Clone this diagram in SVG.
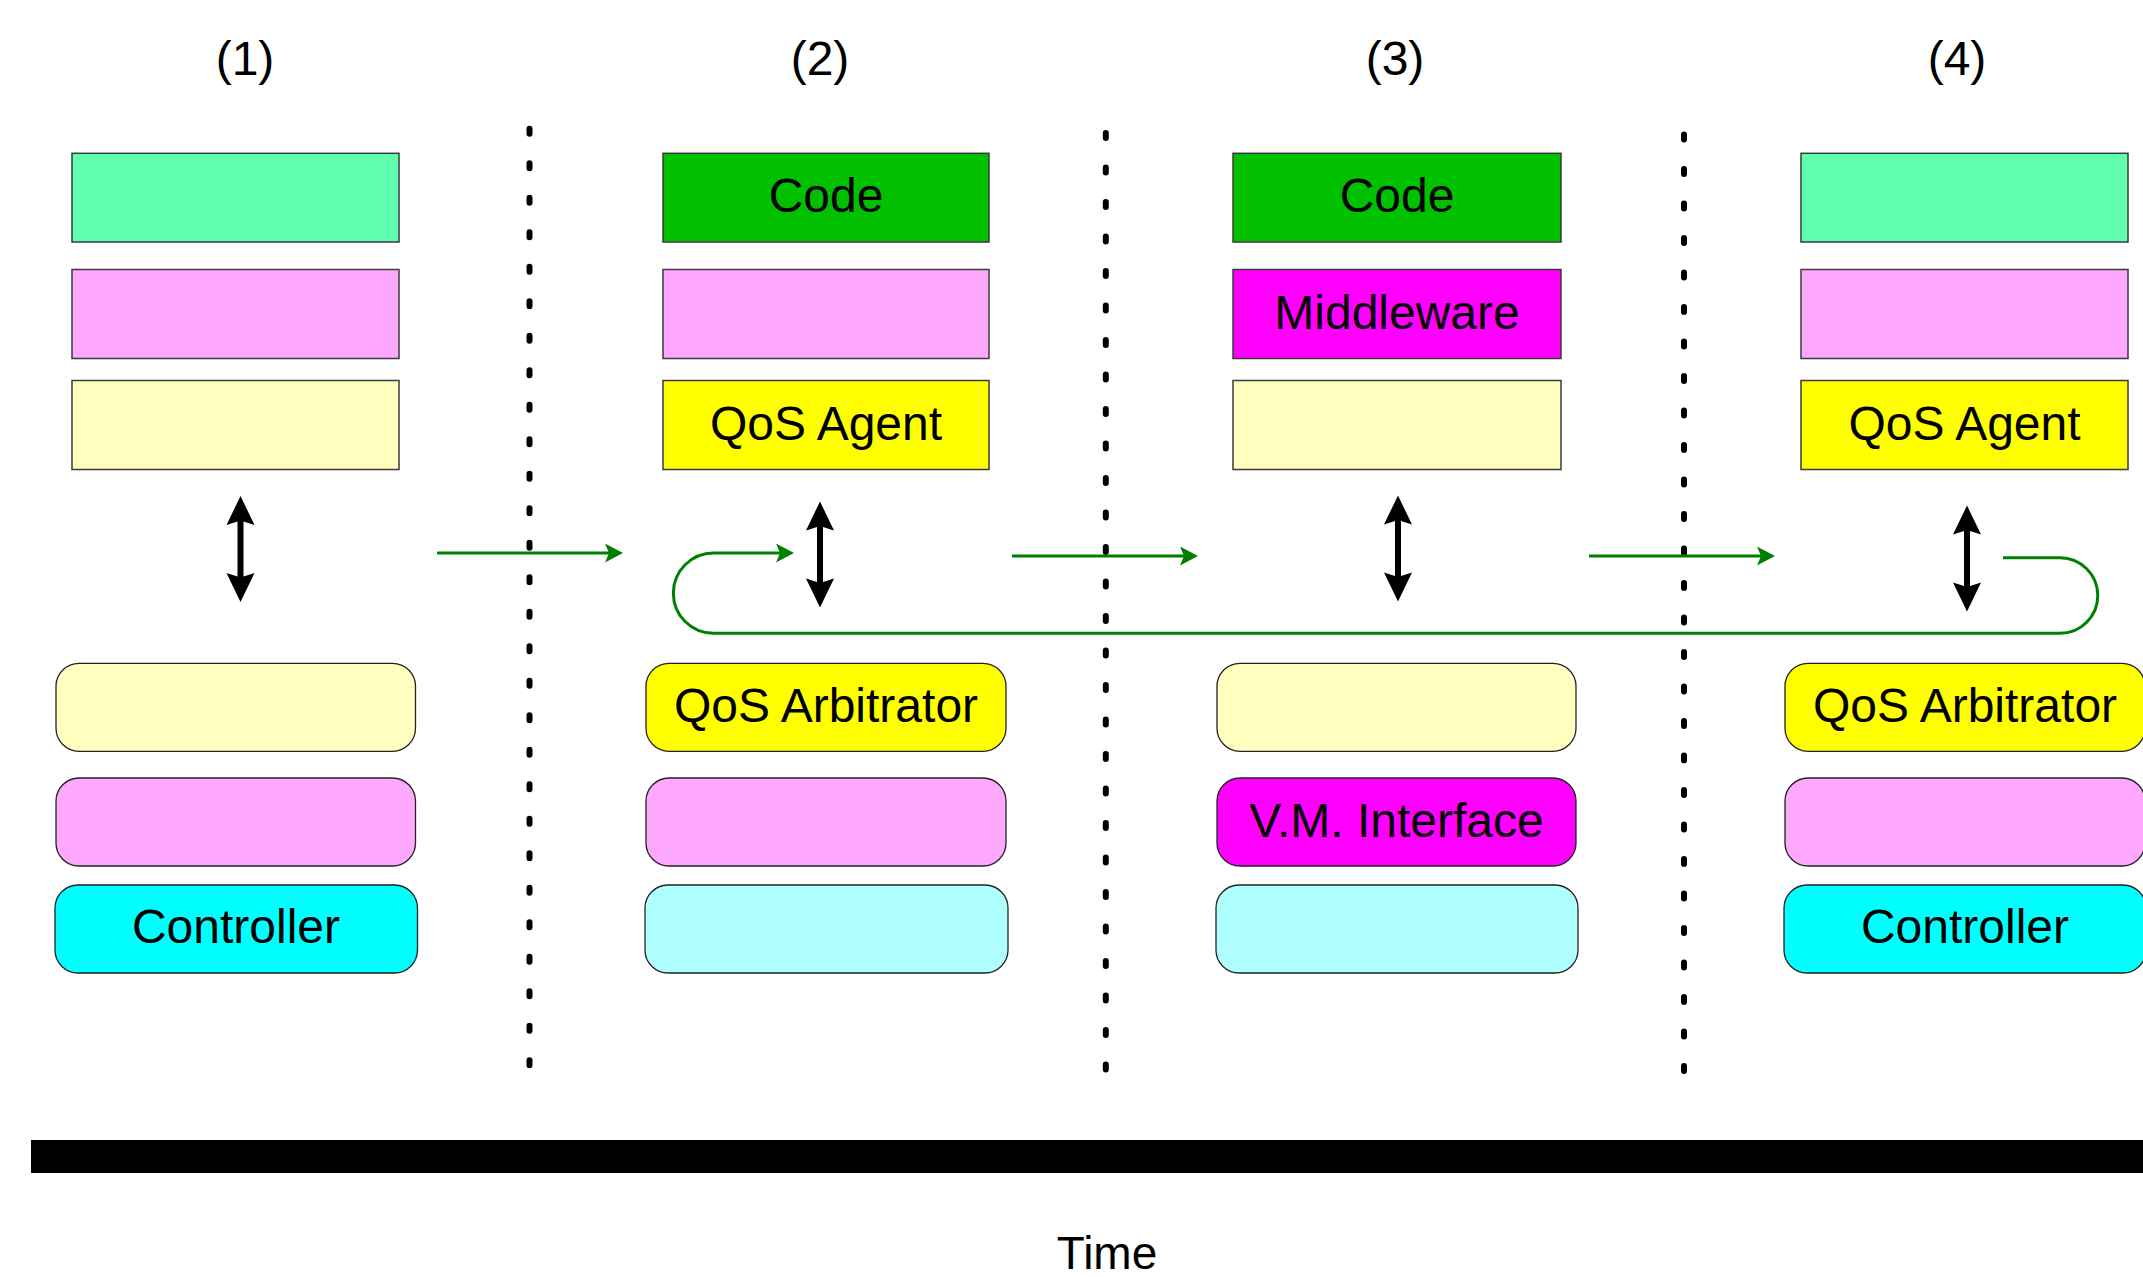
<svg xmlns="http://www.w3.org/2000/svg" width="2143" height="1277" viewBox="0 0 2143 1277">
<style>
text{font-family:"Liberation Sans",Arial,sans-serif;fill:#000;text-anchor:middle}
.lbl{font-size:48px}
.hdr{font-size:48px}
.box{stroke:#3a3a3a;stroke-width:1.5}
.rbox{stroke:#222;stroke-width:1.3}
.dots{stroke:#000;stroke-width:6;stroke-linecap:round;stroke-dasharray:5 29.5;fill:none}
.flow{stroke:#008000;stroke-width:3;fill:none}
.mint{fill:#5fffaf}.lpink{fill:#ffa8ff}.lyel{fill:#ffffc0}.green{fill:#00c000}
.yel{fill:#ffff00}.mag{fill:#ff00ff}.lcyan{fill:#b0ffff}.cyan{fill:#00ffff}
</style>
<defs>
<marker id="ga" markerUnits="userSpaceOnUse" viewBox="0 0 18 19" markerWidth="18" markerHeight="19" refX="6" refY="9.5" orient="auto">
<path d="M0,0 L18,9.5 L0,19 L4,9.5 Z" fill="#008000"/>
</marker>
<path id="darr" d="M0,0 L14,29 L3,25.5 L3,80.5 L14,77 L0,106 L-14,77 L-3,80.5 L-3,25.5 L-14,29 Z" fill="#000"/>
</defs>

<g id="headers">
<text class="hdr" x="245" y="75">(1)</text>
<text class="hdr" x="820" y="75">(2)</text>
<text class="hdr" x="1395" y="75">(3)</text>
<text class="hdr" x="1957" y="75">(4)</text>
</g>

<g id="separators">
<line class="dots" x1="529.5" y1="128.7" x2="529.5" y2="1066"/>
<line class="dots" x1="1105.8" y1="133" x2="1105.8" y2="1070"/>
<line class="dots" x1="1684" y1="134.4" x2="1684" y2="1072"/>
</g>

<g id="col1">
<g id="c1-top"><rect class="box mint" x="72" y="153.3" width="327" height="88.7"/></g>
<g id="c1-mid"><rect class="box lpink" x="72" y="269.5" width="327" height="89"/></g>
<g id="c1-low"><rect class="box lyel" x="72" y="380.5" width="327" height="89"/></g>
<g id="c1-r1"><rect class="rbox lyel" x="56" y="663.3" width="359.5" height="88" rx="23"/></g>
<g id="c1-r2"><rect class="rbox lpink" x="56" y="778" width="359.5" height="88" rx="23"/></g>
<g id="c1-ctrl"><rect class="rbox cyan" x="55" y="885" width="362.5" height="88" rx="23"/><text class="lbl" x="236" y="943">Controller</text></g>
</g>

<g id="col2">
<g id="c2-code"><rect class="box green" x="663" y="153.3" width="326" height="88.7"/><text class="lbl" x="826" y="212">Code</text></g>
<g id="c2-mid"><rect class="box lpink" x="663" y="269.5" width="326" height="89"/></g>
<g id="c2-agent"><rect class="box yel" x="663" y="380.5" width="326" height="89"/><text class="lbl" x="826" y="440">QoS Agent</text></g>
<g id="c2-arb"><rect class="rbox yel" x="646" y="663.3" width="360" height="88" rx="23"/><text class="lbl" x="826" y="722">QoS Arbitrator</text></g>
<g id="c2-r2"><rect class="rbox lpink" x="646" y="778" width="360" height="88" rx="23"/></g>
<g id="c2-r3"><rect class="rbox lcyan" x="645" y="885" width="363" height="88" rx="23"/></g>
</g>

<g id="col3">
<g id="c3-code"><rect class="box green" x="1233" y="153.3" width="328" height="88.7"/><text class="lbl" x="1397" y="212">Code</text></g>
<g id="c3-mw"><rect class="box mag" x="1233" y="269.5" width="328" height="89"/><text class="lbl" x="1397" y="329">Middleware</text></g>
<g id="c3-low"><rect class="box lyel" x="1233" y="380.5" width="328" height="89"/></g>
<g id="c3-r1"><rect class="rbox lyel" x="1217" y="663.3" width="359" height="88" rx="23"/></g>
<g id="c3-vm"><rect class="rbox mag" x="1217" y="778" width="359" height="88" rx="23"/><text class="lbl" x="1396.5" y="837">V.M. Interface</text></g>
<g id="c3-r3"><rect class="rbox lcyan" x="1216" y="885" width="362" height="88" rx="23"/></g>
</g>

<g id="col4">
<g id="c4-top"><rect class="box mint" x="1801" y="153.3" width="327" height="88.7"/></g>
<g id="c4-mid"><rect class="box lpink" x="1801" y="269.5" width="327" height="89"/></g>
<g id="c4-agent"><rect class="box yel" x="1801" y="380.5" width="327" height="89"/><text class="lbl" x="1964.5" y="440">QoS Agent</text></g>
<g id="c4-arb"><rect class="rbox yel" x="1785" y="663.3" width="360" height="88" rx="23"/><text class="lbl" x="1965" y="722">QoS Arbitrator</text></g>
<g id="c4-r2"><rect class="rbox lpink" x="1785" y="778" width="360" height="88" rx="23"/></g>
<g id="c4-ctrl"><rect class="rbox cyan" x="1784" y="885" width="362" height="88" rx="23"/><text class="lbl" x="1965" y="943">Controller</text></g>
</g>

<g id="connectors">
<use href="#darr" x="240.5" y="496"/>
<use href="#darr" x="820" y="501.5"/>
<use href="#darr" x="1398" y="495.5"/>
<use href="#darr" x="1967" y="505.5"/>
<line class="flow" x1="437" y1="553" x2="611" y2="553" marker-end="url(#ga)"/>
<line class="flow" x1="1012" y1="556" x2="1186" y2="556" marker-end="url(#ga)"/>
<line class="flow" x1="1589" y1="556" x2="1763" y2="556" marker-end="url(#ga)"/>
<path class="flow" d="M2003,557.7 H2060 A37.8,37.8 0 0 1 2060,633.3 H713.5 A40.15,40.15 0 0 1 713.5,553 H782" marker-end="url(#ga)"/>
</g>

<g id="timeline">
<rect x="31" y="1140" width="2112" height="33" fill="#000"/>
<text x="1107" y="1269" style="font-size:46px">Time</text>
</g>
</svg>
